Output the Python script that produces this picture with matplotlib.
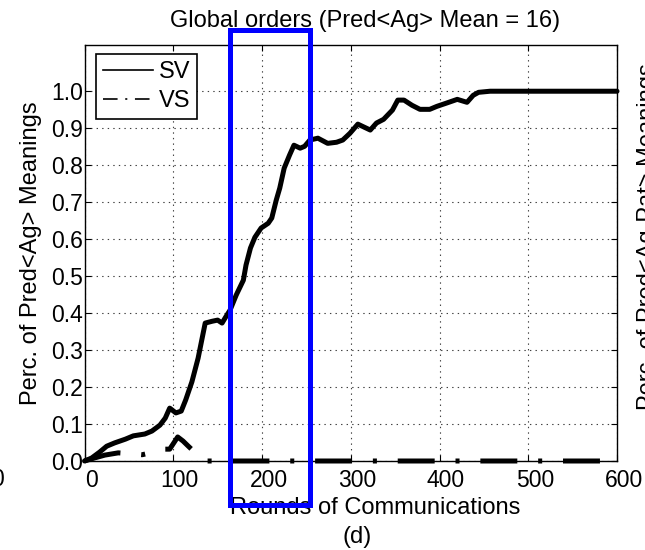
import matplotlib
matplotlib.use("Agg")
import matplotlib.pyplot as plt
import matplotlib.transforms as mtransforms
from matplotlib.lines import Line2D
from matplotlib.patches import Rectangle
from matplotlib.ticker import FormatStrFormatter

plt.rcParams['font.family'] = ['Liberation Sans', 'DejaVu Sans']
plt.rcParams['lines.scale_dashes'] = False

# SV share over rounds
sv_x = [0, 8, 17, 25, 34, 46, 55, 68, 76, 85, 91, 96, 103, 109, 114, 121, 128,
        136, 144, 150, 155, 159, 164, 171, 179, 182, 187, 192, 199, 207, 211,
        216, 220, 225, 231, 236, 243, 248, 254, 263, 274, 284, 291, 299, 308,
        315, 322, 329, 337, 347, 353, 360, 369, 378, 389, 397, 408, 420, 431,
        438, 444, 457, 600]
sv_y = [0.0, 0.008, 0.024, 0.04, 0.049, 0.059, 0.068, 0.073, 0.081, 0.097,
        0.116, 0.143, 0.13, 0.135, 0.165, 0.214, 0.278, 0.373, 0.378, 0.381,
        0.373, 0.389, 0.408, 0.449, 0.489, 0.53, 0.576, 0.605, 0.63, 0.643,
        0.657, 0.705, 0.738, 0.792, 0.827, 0.854, 0.846, 0.851, 0.868, 0.873,
        0.859, 0.862, 0.868, 0.886, 0.911, 0.903, 0.895, 0.914, 0.924, 0.949,
        0.976, 0.976, 0.962, 0.951, 0.951, 0.959, 0.968, 0.978, 0.97, 0.989,
        0.997, 1.0, 1.0]

# VS share over rounds
vs_x = [0, 11, 23, 38, 50, 65, 80, 89, 96, 105, 111, 117, 128, 137, 600]
vs_y = [0.0, 0.008, 0.016, 0.022, 0.02, 0.017, 0.025, 0.032, 0.032, 0.065,
        0.054, 0.04, 0.015, 0.0, 0.0]

x_ticks = [0, 100, 200, 300, 400, 500, 600]
y_ticks = [0.0, 0.1, 0.2, 0.3, 0.4, 0.5, 0.6, 0.7, 0.8, 0.9, 1.0]

W, H = 645, 550
fs = 17
tfs = 16.5

fig = plt.figure(figsize=(W / 100, H / 100), dpi=100)
ax = fig.add_axes([84.5 / W, 1 - 461 / H, 532.5 / W, 416 / H])

vs_dash = (0, (26.6, 15.0, 2.9, 15.0))
ax.plot(sv_x, sv_y, color='black', lw=3.6, solid_capstyle='round',
        solid_joinstyle='round', clip_on=False, zorder=3)
ax.plot(vs_x, vs_y, color='black', lw=3.6, linestyle=vs_dash,
        dash_capstyle='butt', clip_on=False, zorder=3)

ax.set_xlim(0, 600)
ax.set_ylim(0, 1.125)
ax.set_xticks(x_ticks)
ax.set_yticks(y_ticks)
ax.yaxis.set_major_formatter(FormatStrFormatter('%.1f'))
ax.tick_params(direction='in', length=4, width=0.8, top=True, right=True,
               labelsize=tfs)
ax.tick_params(axis='x', pad=6)
ax.tick_params(axis='y', pad=1)
ax.grid(True, color='0.25', linestyle=(0, (1, 3)), lw=0.8)
for s in ax.spines.values():
    s.set_linewidth(1.0)

# x tick labels sit a little right of their ticks in the original
shift = mtransforms.ScaledTranslation(6.5 / 100, 0, fig.dpi_scale_trans)
for lab in ax.get_xticklabels():
    lab.set_transform(lab.get_transform() + shift)

ax.set_title('Global orders (Pred<Ag> Mean = 16)', fontsize=fs,
             x=(365 - 84.5) / 532.5, pad=13)
ax.set_xlabel('Rounds of Communications', fontsize=fs)
ax.xaxis.set_label_coords((375 - 84.5) / 532.5, (461 - 497) / 416)
ax.set_ylabel('Perc. of Pred<Ag> Meanings', fontsize=fs)
ax.yaxis.set_label_coords((42 - 84.5) / 532.5, (461 - 253) / 416)

handles = [Line2D([], [], color='black', lw=1.2),
           Line2D([], [], color='black', lw=1.2, linestyle=(0, (10.5, 5.5, 1.5, 5.5)))]
leg = ax.legend(handles, ['SV', 'VS'], loc='upper left',
                bbox_to_anchor=((96 - 84.5) / 532.5, (461 - 54) / 416),
                borderaxespad=0, fontsize=fs, fancybox=False, framealpha=1,
                edgecolor='black', handlelength=2.1, handletextpad=0.25,
                labelspacing=0.3, borderpad=0.3)
leg.get_frame().set_linewidth(1.2)

# panel letter and bits of the neighbouring panels
fig.text(357 / W, 1 - 537 / H, '(d)', fontsize=fs, ha='center', va='center')
fig.text(4 / W, 1 - 479 / H, '0', fontsize=tfs, ha='right', va='center')
fig.text(637 / W, 1 - 410 / H, 'Perc. of Pred<Ag-Pat> Meanings', fontsize=fs,
         rotation=90, ha='left', va='bottom')

# blue highlight box
fig.patches.append(Rectangle((230 / W, 1 - 505 / H), 80 / W, 475 / H,
                             transform=fig.transFigure, fill=False,
                             edgecolor='#0000ff', lw=3.6, zorder=10))

fig.savefig('out.png', dpi=100)
